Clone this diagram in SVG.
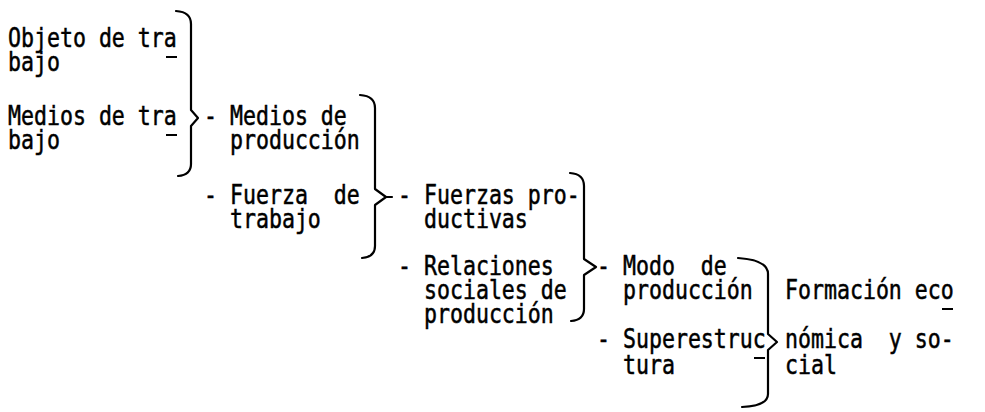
<svg xmlns="http://www.w3.org/2000/svg" width="985" height="412" viewBox="0 0 985 412">
<style>
.t{font-family:"DejaVu Sans Mono","Liberation Mono",monospace;font-size:26px;fill:#000;stroke:#000;stroke-width:0.5px;white-space:pre}
.b{fill:none;stroke:#000;stroke-width:2.2;stroke-linecap:round;stroke-linejoin:round}
.u{stroke:#000;stroke-width:2}
</style>
<rect width="985" height="412" fill="#fff"/>
<g id="n-objeto">
<text class="t" xml:space="preserve" transform="translate(8,47) scale(0.83 1)"><tspan x="0" y="0">Objeto de tra</tspan><tspan x="0" y="24">bajo</tspan></text>
<line class="u" x1="166" y1="57" x2="177" y2="57"/>
</g>
<g id="n-medios-trabajo">
<text class="t" xml:space="preserve" transform="translate(8,125) scale(0.83 1)"><tspan x="0" y="0">Medios de tra</tspan><tspan x="0" y="24">bajo</tspan></text>
<line class="u" x1="166" y1="135" x2="177" y2="135"/>
</g>
<g id="n-medios-produccion">
<text class="t" xml:space="preserve" transform="translate(204,125) scale(0.83 1)"><tspan x="0" y="0">- Medios de</tspan><tspan x="31.3" y="24">producción</tspan></text>
</g>
<g id="n-fuerza-trabajo">
<text class="t" xml:space="preserve" transform="translate(204,204) scale(0.83 1)"><tspan x="0" y="0">- Fuerza  de</tspan><tspan x="31.3" y="24">trabajo</tspan></text>
</g>
<g id="n-fuerzas-productivas">
<text class="t" xml:space="preserve" transform="translate(398,204) scale(0.83 1)"><tspan x="0" y="0">- Fuerzas pro-</tspan><tspan x="31.3" y="24">ductivas</tspan></text>
</g>
<g id="n-relaciones">
<text class="t" xml:space="preserve" transform="translate(398,275) scale(0.83 1)"><tspan x="0" y="0">- Relaciones</tspan><tspan x="31.3" y="24">sociales de</tspan><tspan x="31.3" y="48">producción</tspan></text>
</g>
<g id="n-modo">
<text class="t" xml:space="preserve" transform="translate(597,275) scale(0.83 1)"><tspan x="0" y="0">- Modo  de</tspan><tspan x="31.3" y="24">producción</tspan></text>
</g>
<g id="n-superestructura">
<text class="t" xml:space="preserve" transform="translate(597,348) scale(0.83 1)"><tspan x="0" y="0">- Superestruc</tspan><tspan x="31.3" y="26">tura</tspan></text>
<line class="u" x1="754" y1="358" x2="765" y2="358"/>
</g>
<g id="n-formacion">
<text class="t" xml:space="preserve" transform="translate(785,299) scale(0.83 1)"><tspan x="0" y="0">Formación eco</tspan><tspan x="0" y="49">nómica  y so-</tspan><tspan x="0" y="75">cial</tspan></text>
<line class="u" x1="942" y1="309" x2="953" y2="309"/>
</g>
<g id="connectors">
<path class="b" d="M176,11 Q191,12 191,24 L191,110 L198,118 L191,126 L191,164 Q191,175 178,176"/>
<path class="b" d="M360,95 Q375,96 375,108 L375,189 L386,197 L375,205 L375,246 Q375,257 362,258 M386,197 L392,197"/>
<path class="b" d="M570,173 Q584,174 584,186 L584,259 L596,267 L584,275 L584,309 Q584,320 571,321"/>
<path class="b" d="M738,258 Q768,260 768,274 L768,334 L777,342 L768,350 L768,394 Q768,406 742,407"/>
</g>
</svg>
